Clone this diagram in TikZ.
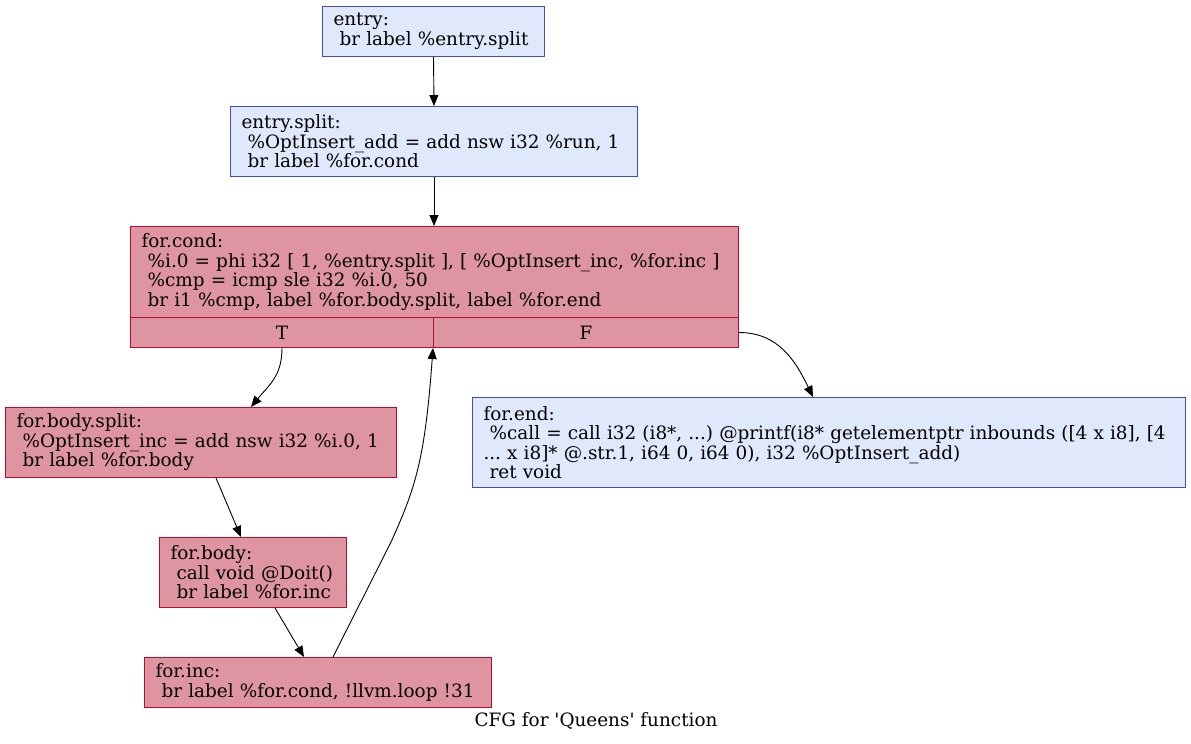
\documentclass[tikz,border=0pt]{standalone}
\usepackage{fontspec}
\setmainfont{DejaVu Serif}
\frenchspacing
\usetikzlibrary{arrows.meta,calc}
\definecolor{rfill}{RGB}{223,149,161}
\definecolor{rbord}{RGB}{183,13,40}
\definecolor{bfill}{RGB}{224,232,251}
\definecolor{bbord}{RGB}{61,80,195}
\newcommand{\cfgfont}{\fontsize{18.4}{19.5}\selectfont}
\tikzset{
  blk/.style={anchor=north west, inner xsep=11pt, inner ysep=0pt, align=left,
    font=\cfgfont, line width=1pt},
  redblk/.style={blk, draw=rbord, fill=rfill},
  blueblk/.style={blk, draw=bbord, fill=bfill},
  portcell/.style={anchor=north west, inner sep=0pt, font=\cfgfont,
    draw=rbord, fill=rfill, line width=1pt},
  edge/.style={line width=0.9pt, -{Triangle[length=11pt,width=9pt]}}
}
\begin{document}
\begin{tikzpicture}[x=1pt,y=-1pt]
\useasboundingbox (0,0) rectangle (1191,744);
% nodes
\node[blueblk, text width=200pt, minimum height=50pt] (entry) at (322,6)
  {entry:\\\ br label \%entry.split};
\node[blueblk, text width=385pt, minimum height=70pt] (esplit) at (230,106)
  {entry.split:\\\ \%OptInsert\_add = add nsw i32 \%run, 1\\\ br label \%for.cond};
\node[redblk, text width=586pt, minimum height=91pt] (cond) at (130,226)
  {for.cond:\\\ \%i.0 = phi i32 [ 1, \%entry.split ], [ \%OptInsert\_inc, \%for.inc ]\\\ \%cmp = icmp sle i32 \%i.0, 50\\\ br i1 \%cmp, label \%for.body.split, label \%for.end};
\node[portcell, minimum width=303pt, minimum height=30pt] (condT) at (130,317) {T};
\node[portcell, minimum width=305pt, minimum height=30pt] (condF) at (433,317) {F};
\node[redblk, text width=369pt, minimum height=70pt] (fbs) at (5,407)
  {for.body.split:\\\ \%OptInsert\_inc = add nsw i32 \%i.0, 1\\\ br label \%for.body};
\node[blueblk, text width=691pt, minimum height=90pt] (fend) at (472,397)
  {for.end:\\\ \%call = call i32 (i8*, ...) @printf(i8* getelementptr inbounds ([4 x i8], [4\\... x i8]* @.str.1, i64 0, i64 0), i32 \%OptInsert\_add)\\\ ret void};
\node[redblk, text width=165pt, minimum height=70pt] (fbody) at (159,537)
  {for.body:\\\ call void @Doit()\\\ br label \%for.inc};
\node[redblk, text width=325pt, minimum height=50pt] (finc) at (144,657)
  {for.inc:\\\ br label \%for.cond, !llvm.loop !31};
\node[font=\cfgfont, inner sep=0pt] (title) at (596,721)
  {CFG for \textquotesingle Queens\textquotesingle\ function};
% edges
\draw[edge] (entry.south) -- (esplit.south |- esplit.north);
\draw[edge] (esplit.south) -- (cond.north -| esplit.south);
\draw[edge] (condT.south) .. controls ($(condT.south)+(0,28)$) and ($(fbs.north)+(68,-22)$) .. ($(fbs.north)+(50,0)$);
\draw[edge] (condF.east) .. controls ($(condF.east)+(40,0)$) and ($(fend.north)+(-33,-35)$) .. ($(fend.north)+(-16,0)$);
\draw[edge] ($(fbs.south)+(15,0)$) -- ($(fbody.north)+(-12,0)$);
\draw[edge] ($(fbody.south)+(22,0)$) -- ($(finc.north)+(-14,0)$);
\draw[edge] ($(finc.north)+(15,0)$) -- ($(finc.north)+(73,-115)$) .. controls ($(finc.north)+(98,-170)$) and ($(condF.south west)+(-8,110)$) .. (condF.south west);
\end{tikzpicture}
\end{document}
